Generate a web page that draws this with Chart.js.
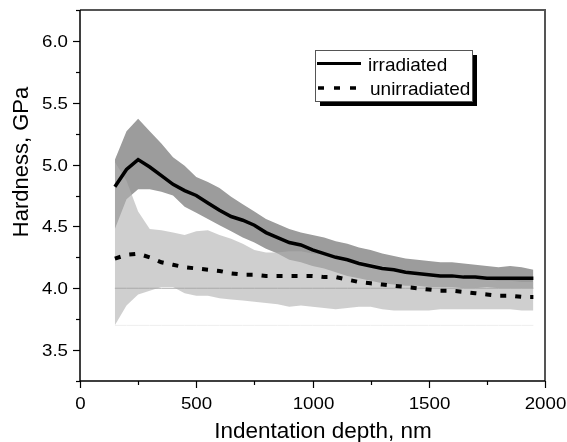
<!DOCTYPE html>
<html>
<head>
<meta charset="utf-8">
<script src="https://cdn.jsdelivr.net/npm/chart.js@4.4.1/dist/chart.umd.min.js"></script>
<style>
	html, body { margin:0; padding:0; background:#fff; }
	#wrap { position:relative; width:567px; height:442px; }
</style>
</head>
<body>
<div id="wrap"><canvas id="c"></canvas></div>
<script>
// indentation depth grid, nm
const depth = [150,200,250,300,350,400,450,500,550,600,650,700,750,800,850,900,950,1000,1050,1100,1150,1200,1250,1300,1350,1400,1450,1500,1550,1600,1650,1700,1750,1800,1850,1900,1950];

// irradiated: mean and scatter band, GPa
const irrMean  = [4.82,4.96,5.04,4.98,4.91,4.84,4.79,4.75,4.69,4.63,4.58,4.55,4.51,4.45,4.41,4.37,4.35,4.31,4.28,4.25,4.23,4.20,4.18,4.16,4.15,4.13,4.12,4.11,4.10,4.10,4.09,4.09,4.08,4.08,4.08,4.08,4.08];
const irrUpper = [5.04,5.27,5.37,5.27,5.17,5.06,4.99,4.90,4.86,4.81,4.74,4.68,4.62,4.56,4.52,4.48,4.45,4.43,4.41,4.38,4.36,4.33,4.31,4.28,4.26,4.24,4.23,4.22,4.21,4.21,4.20,4.19,4.18,4.17,4.18,4.17,4.15];
const irrLower = [4.48,4.72,4.80,4.80,4.78,4.75,4.66,4.61,4.56,4.51,4.46,4.41,4.37,4.32,4.28,4.23,4.21,4.18,4.16,4.13,4.10,4.08,4.06,4.04,4.03,4.02,4.02,4.01,4.01,4.01,4.00,4.00,4.01,4.00,4.00,4.00,4.00];

// unirradiated: mean and scatter band, GPa
const unMean  = [4.24,4.27,4.28,4.25,4.21,4.19,4.17,4.16,4.15,4.14,4.12,4.11,4.11,4.10,4.10,4.10,4.10,4.10,4.09,4.09,4.07,4.05,4.04,4.03,4.02,4.01,4.00,3.99,3.98,3.98,3.97,3.96,3.95,3.94,3.94,3.93,3.93];
const unUpper = [5.02,4.87,4.62,4.48,4.47,4.45,4.43,4.46,4.47,4.43,4.40,4.36,4.31,4.29,4.29,4.30,4.30,4.28,4.27,4.26,4.24,4.22,4.20,4.18,4.16,4.14,4.12,4.11,4.10,4.09,4.08,4.07,4.07,4.06,4.06,4.05,4.05];
const unLower = [3.70,3.86,3.95,3.98,4.01,4.01,3.96,3.94,3.94,3.92,3.91,3.90,3.89,3.88,3.87,3.85,3.86,3.85,3.84,3.83,3.84,3.85,3.85,3.83,3.82,3.82,3.82,3.82,3.83,3.83,3.83,3.83,3.83,3.83,3.83,3.82,3.82];

// thin reference levels across the data range, GPa
const refLevels = [4.0, 3.7];

const seriesNames = ['irradiated', 'unirradiated'];
const xTitle = 'Indentation depth, nm';
const yTitle = 'Hardness, GPa';

const FONT = '"Liberation Sans", Arial, sans-serif';
const pts = arr => arr.map((v, i) => ({x: depth[i], y: v}));
const flat = v => depth.map(d => ({x: d, y: v}));

const isMajorY = v => Math.abs(v * 2 - Math.round(v * 2)) < 1e-6;
const isMajorX = v => v % 500 === 0;

// tick label text, a little wider than the font draws it
const wideText = (ctx, s, x, y) => {
	ctx.save();
	ctx.translate(x, y);
	ctx.scale(1.1, 1);
	ctx.fillText(s, 0, 0);
	ctx.restore();
};

// frame, ticks, tick labels, axis titles, legend
const decor = {
	id: 'decor',
	afterDraw(chart) {
		const ctx = chart.ctx, a = chart.chartArea;
		const xs = chart.scales.x, ys = chart.scales.y;
		ctx.save();
		ctx.lineCap = 'butt';

		// frame
		ctx.lineWidth = 2;
		ctx.strokeStyle = '#555';
		ctx.beginPath();
		ctx.moveTo(a.left, a.top); ctx.lineTo(a.right, a.top); ctx.lineTo(a.right, a.bottom);
		ctx.stroke();
		ctx.lineWidth = 1.5;
		ctx.strokeStyle = '#000';
		ctx.beginPath();
		ctx.moveTo(a.left, a.top); ctx.lineTo(a.left, a.bottom); ctx.lineTo(a.right, a.bottom);
		ctx.stroke();

		// ticks and labels
		ctx.lineWidth = 1.2;
		ctx.fillStyle = '#000';
		ctx.font = '17px ' + FONT;
		ctx.textAlign = 'right';
		ctx.textBaseline = 'middle';
		ys.ticks.forEach(t => {
			const p = Math.round(ys.getPixelForValue(t.value)) + 0.5;
			const major = isMajorY(t.value);
			const len = major ? 7 : 4;
			ctx.beginPath(); ctx.moveTo(a.left - len, p); ctx.lineTo(a.left, p); ctx.stroke();
			if (major) wideText(ctx, t.value.toFixed(1), 68, p + 1);
		});
		ctx.textAlign = 'center';
		ctx.textBaseline = 'alphabetic';
		xs.ticks.forEach(t => {
			const p = Math.round(xs.getPixelForValue(t.value)) + 0.5;
			const major = isMajorX(t.value);
			const len = major ? 7 : 4;
			ctx.beginPath(); ctx.moveTo(p, a.bottom); ctx.lineTo(p, a.bottom + len); ctx.stroke();
			if (major) wideText(ctx, String(t.value), p, 409);
		});

		// axis titles
		ctx.font = '22.5px ' + FONT;
		ctx.fillText(xTitle, 323, 438);
		ctx.save();
		ctx.translate(28, 162);
		ctx.rotate(-Math.PI / 2);
		ctx.font = '22px ' + FONT;
		ctx.fillText(yTitle, 0, 0);
		ctx.restore();

		// legend box with drop shadow
		const bx = 315, by = 50, bw = 157, bh = 51;
		ctx.fillStyle = '#000';
		ctx.fillRect(bx + 5, by + 5, bw, bh);
		ctx.fillStyle = '#fff';
		ctx.fillRect(bx, by, bw, bh);
		ctx.lineWidth = 1;
		ctx.strokeStyle = '#555';
		ctx.strokeRect(bx + 0.5, by + 0.5, bw, bh);

		ctx.strokeStyle = '#000';
		ctx.lineWidth = 3;
		ctx.beginPath(); ctx.moveTo(317, 63.5); ctx.lineTo(361, 63.5); ctx.stroke();
		ctx.setLineDash([6, 10]);
		ctx.lineWidth = 3.5;
		ctx.beginPath(); ctx.moveTo(318, 88); ctx.lineTo(361, 88); ctx.stroke();
		ctx.setLineDash([]);

		ctx.fillStyle = '#000';
		ctx.font = '19px ' + FONT;
		ctx.textAlign = 'left';
		ctx.fillText(seriesNames[0], 368, 71);
		ctx.fillText(seriesNames[1], 370, 95);
		ctx.restore();
	}
};

const line = (data, extra) => Object.assign({
	data: data, pointRadius: 0, borderWidth: 0, tension: 0, fill: false
}, extra);

new Chart(document.getElementById('c'), {
	type: 'line',
	data: {
		datasets: [
			line(pts(irrMean), {label: seriesNames[0], borderColor: '#000', borderWidth: 3.5}),
			line(pts(unMean), {label: seriesNames[1], borderColor: '#000', borderWidth: 4, borderDash: [6, 9]}),
			line(flat(refLevels[0]), {borderColor: '#aaa', borderWidth: 1}),
			line(flat(refLevels[1]), {borderColor: '#eee', borderWidth: 1}),
			line(pts(unUpper), {fill: '+1', backgroundColor: 'rgba(178,178,178,0.62)'}),
			line(pts(unLower)),
			line(pts(irrUpper), {fill: '+1', backgroundColor: '#9c9c9c'}),
			line(pts(irrLower)),
		]
	},
	options: {
		responsive: true,
		maintainAspectRatio: false,
		animation: false,
		layout: { padding: {top: 10, right: 22, left: 0, bottom: 0} },
		plugins: { legend: {display: false}, tooltip: {enabled: false} },
		scales: {
			x: {
				type: 'linear', min: 0, max: 2000,
				grid: {display: false}, border: {display: false},
				ticks: {display: false, stepSize: 250, autoSkip: false},
				afterFit: s => { s.height = 61; }
			},
			y: {
				min: 3.25, max: 6.25,
				grid: {display: false}, border: {display: false},
				ticks: {display: false, stepSize: 0.25, autoSkip: false},
				afterFit: s => { s.width = 80; }
			}
		}
	},
	plugins: [decor]
});
</script>
</body>
</html>
